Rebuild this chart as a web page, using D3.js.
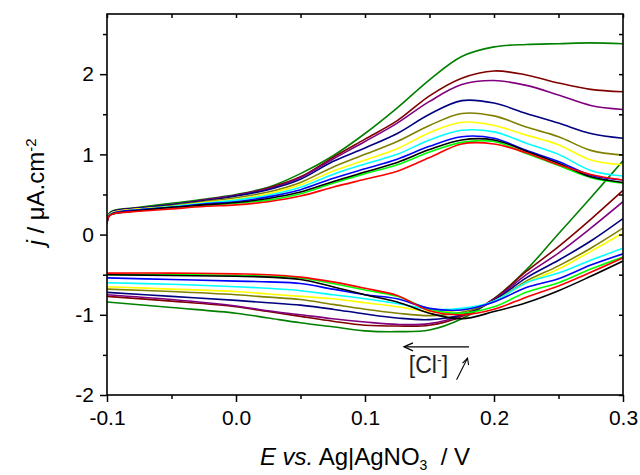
<!DOCTYPE html>
<html>
<head>
<meta charset="utf-8">
<script src="https://cdn.jsdelivr.net/npm/d3@7"></script>
<style>
  body { margin: 0; background: #fff; }
  svg { font-family: Arial, "Liberation Sans", sans-serif; }
</style>
</head>
<body>
<svg id="chart" width="640" height="475"></svg>
<script>
// potentials (V) of the forward (anodic) and reverse scans
const eForward = [-0.1, -0.0985, -0.095, -0.075, -0.05, -0.025, 0, 0.025, 0.05, 0.075, 0.1, 0.125, 0.15, 0.175, 0.2, 0.225, 0.25, 0.275, 0.3];
const eReverse = [0.3, 0.275, 0.25, 0.225, 0.2, 0.175, 0.15, 0.125, 0.1, 0.075, 0.05, 0.025, 0, -0.05, -0.1];

// current density (uA/cm2), forward scan
const fwdRed    = [0.14, 0.23, 0.26, 0.29, 0.32, 0.35, 0.37, 0.41, 0.48, 0.59, 0.69, 0.79, 0.96, 1.13, 1.13, 1.02, 0.87, 0.75, 0.68];
const fwdGreen  = [0.14, 0.23, 0.26, 0.30, 0.33, 0.36, 0.39, 0.43, 0.51, 0.64, 0.76, 0.87, 1.03, 1.15, 1.16, 1.01, 0.86, 0.71, 0.64];
const fwdBlack  = [0.14, 0.23, 0.26, 0.30, 0.34, 0.37, 0.40, 0.45, 0.53, 0.66, 0.78, 0.90, 1.06, 1.18, 1.18, 1.04, 0.89, 0.72, 0.65];
const fwdBlue   = [0.14, 0.23, 0.27, 0.31, 0.34, 0.38, 0.41, 0.47, 0.56, 0.70, 0.82, 0.94, 1.10, 1.22, 1.20, 1.05, 0.91, 0.74, 0.68];
const fwdCyan   = [0.14, 0.24, 0.27, 0.31, 0.35, 0.39, 0.43, 0.49, 0.59, 0.75, 0.88, 1.00, 1.18, 1.30, 1.28, 1.14, 1.00, 0.80, 0.73];
const fwdYellow = [0.15, 0.24, 0.28, 0.32, 0.35, 0.40, 0.44, 0.51, 0.62, 0.79, 0.93, 1.07, 1.27, 1.40, 1.36, 1.24, 1.12, 0.93, 0.87];
const fwdOlive  = [0.15, 0.24, 0.28, 0.32, 0.36, 0.41, 0.46, 0.53, 0.65, 0.84, 1.00, 1.16, 1.36, 1.51, 1.48, 1.34, 1.22, 1.05, 0.99];
const fwdNavy   = [0.15, 0.25, 0.29, 0.33, 0.37, 0.42, 0.48, 0.56, 0.69, 0.91, 1.08, 1.26, 1.50, 1.67, 1.64, 1.51, 1.39, 1.26, 1.20];
const fwdPurple = [0.15, 0.25, 0.29, 0.33, 0.37, 0.43, 0.49, 0.57, 0.71, 0.94, 1.16, 1.39, 1.66, 1.87, 1.92, 1.86, 1.74, 1.61, 1.56];
const fwdMaroon = [0.15, 0.25, 0.29, 0.33, 0.37, 0.43, 0.49, 0.58, 0.72, 0.96, 1.19, 1.42, 1.73, 1.95, 2.04, 1.99, 1.89, 1.81, 1.78];
const fwdDkGreen = [0.16, 0.26, 0.30, 0.34, 0.39, 0.44, 0.50, 0.59, 0.76, 0.98, 1.26, 1.58, 1.93, 2.22, 2.34, 2.37, 2.38, 2.39, 2.38];

// current density (uA/cm2), reverse scan
const revRed    = [-0.29, -0.47, -0.64, -0.78, -0.93, -1.00, -0.95, -0.76, -0.67, -0.59, -0.53, -0.50, -0.49, -0.48, -0.48];
const revGreen  = [-0.28, -0.43, -0.60, -0.72, -0.90, -0.98, -0.93, -0.77, -0.69, -0.61, -0.54, -0.52, -0.51, -0.50, -0.50];
const revBlack  = [-0.33, -0.52, -0.70, -0.85, -0.96, -1.05, -0.98, -0.84, -0.75, -0.65, -0.56, -0.53, -0.52, -0.51, -0.50];
const revBlue   = [-0.24, -0.38, -0.55, -0.66, -0.84, -0.94, -0.92, -0.80, -0.75, -0.68, -0.61, -0.59, -0.58, -0.56, -0.54];
const revCyan   = [-0.17, -0.32, -0.48, -0.60, -0.83, -0.92, -0.93, -0.86, -0.80, -0.75, -0.70, -0.67, -0.65, -0.62, -0.60];
const revYellow = [0.02, -0.21, -0.43, -0.60, -0.83, -0.94, -0.96, -0.90, -0.85, -0.80, -0.77, -0.74, -0.71, -0.68, -0.65];
const revOlive  = [0.08, -0.17, -0.39, -0.58, -0.83, -0.97, -1.01, -0.98, -0.93, -0.87, -0.81, -0.78, -0.75, -0.71, -0.68];
const revNavy   = [0.20, -0.08, -0.32, -0.54, -0.82, -1.00, -1.06, -1.04, -0.99, -0.93, -0.88, -0.85, -0.82, -0.77, -0.72];
const revPurple = [0.41, 0.08, -0.23, -0.50, -0.81, -1.01, -1.11, -1.12, -1.09, -1.05, -1.00, -0.95, -0.89, -0.81, -0.75];
const revMaroon = [0.55, 0.19, -0.15, -0.46, -0.80, -1.02, -1.13, -1.14, -1.13, -1.08, -1.02, -0.96, -0.90, -0.83, -0.77];
const revDkGreen = [0.92, 0.46, 0.01, -0.44, -0.80, -1.05, -1.19, -1.21, -1.20, -1.15, -1.10, -1.04, -0.98, -0.91, -0.84];

const xTicks = [-0.1, 0.0, 0.1, 0.2, 0.3];
const yTicks = [-2, -1, 0, 1, 2];

// drawing order (bottom first)
const series = [
    { color: '#008000', fwd: fwdDkGreen, rev: revDkGreen },
    { color: '#800000', fwd: fwdMaroon, rev: revMaroon },
    { color: '#800080', fwd: fwdPurple, rev: revPurple },
    { color: '#000080', fwd: fwdNavy, rev: revNavy },
    { color: '#808000', fwd: fwdOlive, rev: revOlive },
    { color: '#ffff00', fwd: fwdYellow, rev: revYellow },
    { color: '#00ffff', fwd: fwdCyan, rev: revCyan },
    { color: '#00ff00', fwd: fwdGreen, rev: revGreen },
    { color: '#0000ff', fwd: fwdBlue, rev: revBlue },
    { color: '#000000', fwd: fwdBlack, rev: revBlack },
    { color: '#ff0000', fwd: fwdRed, rev: revRed }
];

const svg = d3.select('#chart');
const margin = { top: 14, right: 17, bottom: 80, left: 107 };
const width = 640 - margin.left - margin.right;
const height = 475 - margin.top - margin.bottom;

const g = svg.append('g')
    .attr('transform', `translate(${margin.left}, ${margin.top})`);

const x = d3.scaleLinear().domain([-0.1, 0.3]).range([0, width]);
const y = d3.scaleLinear().domain([-2, 2.75]).range([height, 0]);

g.append('clipPath')
    .attr('id', 'plotClip')
    .append('rect')
    .attr('width', width)
    .attr('height', height);

const line = d3.line()
    .x(d => x(d[0]))
    .y(d => y(d[1]))
    .curve(d3.curveCatmullRom.alpha(0.5));

const curves = g.append('g').attr('clip-path', 'url(#plotClip)');

series.forEach(s => {
    const fwdPts = eForward.map((e, i) => [e, s.fwd[i]]);
    const revPts = eReverse.map((e, i) => [e, s.rev[i]]);
    [fwdPts, revPts].forEach(pts => {
        curves.append('path')
            .datum(pts)
            .attr('d', line)
            .attr('fill', 'none')
            .attr('stroke', s.color)
            .attr('stroke-width', 1.6)
            .attr('stroke-linejoin', 'round');
    });
});

const numFmt = f => v => d3.format(f)(v).replace('\u2212', '-');

// minor tick positions
const xMinor = [-0.05, 0.05, 0.15, 0.25];
const yMinor = [-1.5, -0.5, 0.5, 1.5, 2.5];

// bottom axis
g.append('g')
    .attr('transform', `translate(0, ${height})`)
    .call(d3.axisBottom(x).tickValues(xTicks).tickFormat(numFmt('.1f')).tickSize(7).tickSizeOuter(0).tickPadding(8))
    .call(a => a.select('.domain').remove())
    .selectAll('text')
    .style('font-size', '21px')
    .attr('fill', '#000');

g.append('g')
    .attr('transform', `translate(0, ${height})`)
    .call(d3.axisBottom(x).tickValues(xMinor).tickFormat('').tickSize(4).tickSizeOuter(0))
    .call(a => a.select('.domain').remove());

// left axis
g.append('g')
    .call(d3.axisLeft(y).tickValues(yTicks).tickFormat(numFmt('d')).tickSize(7).tickSizeOuter(0).tickPadding(6))
    .call(a => a.select('.domain').remove())
    .selectAll('text')
    .style('font-size', '21px')
    .attr('fill', '#000');

g.append('g')
    .call(d3.axisLeft(y).tickValues(yMinor).tickFormat('').tickSize(4).tickSizeOuter(0))
    .call(a => a.select('.domain').remove());

// top and right axes, ticks inward
g.append('g')
    .call(d3.axisBottom(x).tickValues(xTicks.concat(xMinor)).tickFormat('').tickSize(4).tickSizeOuter(0))
    .call(a => a.select('.domain').remove());

g.append('g')
    .attr('transform', `translate(${width}, 0)`)
    .call(d3.axisLeft(y).tickValues(yTicks.concat(yMinor)).tickFormat('').tickSize(4).tickSizeOuter(0))
    .call(a => a.select('.domain').remove());

g.selectAll('.tick line').attr('stroke', '#000').attr('stroke-width', 1.5);

g.append('rect')
    .attr('width', width)
    .attr('height', height)
    .attr('fill', 'none')
    .attr('stroke', '#000')
    .attr('stroke-width', 1.6);

// axis titles
const xTitle = svg.append('text')
    .attr('x', margin.left + width / 2)
    .attr('y', 465)
    .attr('text-anchor', 'middle')
    .style('font-size', '24px');
xTitle.append('tspan').style('font-style', 'italic').text('E vs.');
xTitle.append('tspan').text(' Ag|AgNO');
xTitle.append('tspan').attr('dy', 5).style('font-size', '14px').text('3');
xTitle.append('tspan').attr('dy', -5).text('\u00a0 / V');

const yTitle = svg.append('text')
    .attr('transform', `translate(44, ${margin.top + 178}) rotate(-90)`)
    .attr('text-anchor', 'middle')
    .style('font-size', '24px');
yTitle.append('tspan').style('font-style', 'italic').text('j');
yTitle.append('tspan').text(' / \u03bcA.cm');
yTitle.append('tspan').attr('baseline-shift', 'super').style('font-size', '15px').text('-2');

// annotation: [Cl-] increasing
const note = g.append('g');
const arY = y(-1.4), arX0 = x(0.1806), arX1 = x(0.1302);
note.append('line')
    .attr('x1', arX0).attr('x2', arX1)
    .attr('y1', arY).attr('y2', arY)
    .attr('stroke', '#000').attr('stroke-width', 1.2);
note.append('path')
    .attr('d', `M${arX1 + 9},${arY - 4} L${arX1},${arY} L${arX1 + 9},${arY + 4}`)
    .attr('fill', 'none').attr('stroke', '#000').attr('stroke-width', 1.2);

const cl = note.append('text')
    .attr('x', x(0.1340))
    .attr('y', y(-1.73))
    .style('font-size', '23px')
    .attr('fill', '#222');
cl.append('tspan').text('[Cl');
cl.append('tspan').attr('baseline-shift', 'super').style('font-size', '14px').text('-');
cl.append('tspan').text(']');

const ax0 = x(0.1710), ay0 = y(-1.81), ax1 = x(0.1795), ay1 = y(-1.54);
note.append('line')
    .attr('x1', ax0).attr('y1', ay0).attr('x2', ax1).attr('y2', ay1)
    .attr('stroke', '#000').attr('stroke-width', 1.1);
note.append('path')
    .attr('d', `M${ax1 - 5},${ay1 + 5} L${ax1},${ay1} L${ax1 + 1},${ay1 + 7}`)
    .attr('fill', 'none').attr('stroke', '#000').attr('stroke-width', 1.1);
</script>
</body>
</html>
